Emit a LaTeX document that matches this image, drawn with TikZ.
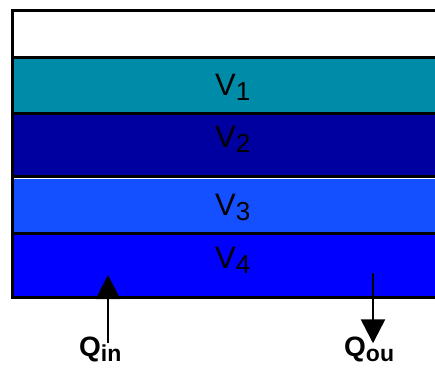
\documentclass[tikz,border=0pt]{standalone}
\usepackage{fontspec}
\setmainfont{Liberation Sans}
\usetikzlibrary{positioning, calc, arrows.meta}

\definecolor{volone}{RGB}{0,139,168}
\definecolor{voltwo}{RGB}{0,0,160}
\definecolor{volthree}{RGB}{20,80,255}
\definecolor{volfour}{RGB}{0,0,255}

% layer labels V_n and flow labels Q_x
\newcommand{\volname}[1]{\fontsize{31}{31}\selectfont V\raisebox{-5pt}{\fontsize{26}{26}\selectfont #1}}
\newcommand{\flowname}[1]{\bfseries\fontsize{28}{28}\selectfont Q\raisebox{-5pt}{\fontsize{23}{23}\selectfont #1}}

\begin{document}
\begin{tikzpicture}[x=1pt, y=-1pt,
    every node/.style={inner sep=0pt},
    sep/.style={line width=3pt},
    flow/.style={line width=2.6pt, -{Triangle[length=24pt,width=24pt]}}]
    \useasboundingbox (0,0) rectangle (435,368);
    % the four layers
    \fill[volone] (14,57) rectangle (440,113);
    \fill[voltwo] (14,113) rectangle (440,177);
    \fill[volthree] (14,177) rectangle (440,233);
    \fill[volfour] (14,233) rectangle (440,297);
    \draw[white, line width=1pt] (14,178.5) -- (440,178.5);
    % container and separators
    \draw[sep] (440,10) -- (12,10) -- (12,297) -- (440,297);
    \draw[sep] (12,57) -- (440,57);
    \draw[sep] (12,113) -- (440,113);
    \draw[sep] (12,176) -- (440,176);
    \draw[sep] (12,233) -- (440,233);

    \node[anchor=base west] (v1) at (215,95) {\volname{1}};
    \node[anchor=base west] (v2) at (215,147) {\volname{2}};
    \node[anchor=base west] (v3) at (215,215) {\volname{3}};
    \node[anchor=base west] (v4) at (215,268) {\volname{4}};

    % inflow and outflow
    \node[anchor=base west] (qin) at (79,356) {\flowname{in}};
    \node[anchor=base west] (qou) at (344,356) {\flowname{ou}};
    \coordinate (intip) at (108,275);
    \coordinate (outtop) at (373,273);
    \draw[flow] ($(qin.north -| intip)+(0,7)$) -- (intip);
    \draw[flow] (outtop) -- ($(qou.north -| outtop)+(0,7)$);
\end{tikzpicture}
\end{document}
